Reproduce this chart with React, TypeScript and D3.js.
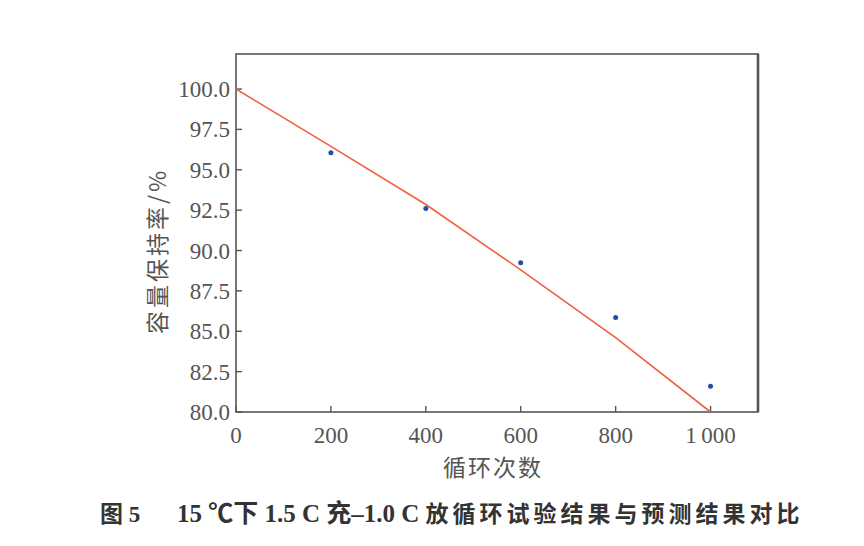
import React, { useEffect, useRef } from "react";
import * as d3 from "d3";

// cycle counts and measured capacity retention (%)
const cycles = [200, 400, 600, 800, 1000];
const measured = [96.05, 92.6, 89.25, 85.85, 81.6];

// predicted curve
const predCycles = [0, 200, 400, 600, 800, 1000];
const predicted = [100, 96.45, 92.85, 88.8, 84.6, 80.0];

const xTicks = [0, 200, 400, 600, 800, 1000];
const yTicks = [80, 82.5, 85, 87.5, 90, 92.5, 95, 97.5, 100];

const serif = "'Liberation Serif', 'DejaVu Serif', serif";
const mixed = "'Liberation Serif', 'Noto Sans CJK SC', serif";
const cjk = "'Noto Sans CJK SC', sans-serif";

const App: React.FC = () => {
  const svgRef = useRef<SVGSVGElement>(null);

  useEffect(() => {
    if (!svgRef.current) return;
    const svg = d3.select(svgRef.current);
    svg.selectAll("*").remove();

    const left = 236;
    const right = 758;
    const top = 54;
    const bottom = 412;

    const x = d3.scaleLinear().domain([0, 1100]).range([left, right]);
    const y = d3.scaleLinear().domain([80, 102.17]).range([bottom, top]);

    svg.append("rect").attr("width", 864).attr("height", 546).attr("fill", "#fff");

    // frame
    svg
      .append("rect")
      .attr("x", left)
      .attr("y", top)
      .attr("width", right - left)
      .attr("height", bottom - top)
      .attr("fill", "none")
      .attr("stroke", "#555")
      .attr("stroke-width", 1.6);
    svg
      .append("line")
      .attr("x1", right)
      .attr("x2", right)
      .attr("y1", top)
      .attr("y2", bottom)
      .attr("stroke", "#555")
      .attr("stroke-width", 2.6);

    // x ticks (inward)
    const xAxis = svg.append("g");
    xTicks.forEach((t) => {
      xAxis
        .append("line")
        .attr("x1", x(t))
        .attr("x2", x(t))
        .attr("y1", bottom)
        .attr("y2", bottom - 6)
        .attr("stroke", "#555")
        .attr("stroke-width", 1.4);
      xAxis
        .append("text")
        .attr("x", x(t))
        .attr("y", bottom + 31)
        .attr("text-anchor", "middle")
        .attr("font-family", serif)
        .attr("font-size", 23)
        .attr("fill", "#555")
        .text(t === 1000 ? "1\u2009000" : String(t));
    });

    // y ticks (inward)
    const yAxis = svg.append("g");
    yTicks.forEach((t) => {
      yAxis
        .append("line")
        .attr("x1", left)
        .attr("x2", left + 6)
        .attr("y1", y(t))
        .attr("y2", y(t))
        .attr("stroke", "#555")
        .attr("stroke-width", 1.4);
      yAxis
        .append("text")
        .attr("x", left - 6)
        .attr("y", y(t) + 8)
        .attr("text-anchor", "end")
        .attr("font-family", serif)
        .attr("font-size", 23)
        .attr("fill", "#555")
        .text(t.toFixed(1));
    });

    // predicted line
    const line = d3
      .line<number>()
      .x((_, i) => x(predCycles[i]))
      .y((d) => y(d));
    svg
      .append("path")
      .datum(predicted)
      .attr("fill", "none")
      .attr("stroke", "#f0603c")
      .attr("stroke-width", 1.6)
      .attr("d", line);

    // measured points
    svg
      .selectAll(".pt")
      .data(measured)
      .enter()
      .append("circle")
      .attr("class", "pt")
      .attr("cx", (_, i) => x(cycles[i]))
      .attr("cy", (d) => y(d))
      .attr("r", 2.5)
      .attr("fill", "#1f4fa8");

    // axis titles
    svg
      .append("text")
      .attr("x", 493)
      .attr("y", 476)
      .attr("text-anchor", "middle")
      .attr("font-family", cjk)
      .attr("font-size", 23)
      .attr("letter-spacing", 2)
      .attr("fill", "#555")
      .text("循环次数");

    svg
      .append("text")
      .attr("transform", `translate(166,251) rotate(-90)`)
      .attr("text-anchor", "middle")
      .attr("font-family", cjk)
      .attr("font-size", 23)
      .attr("letter-spacing", 3)
      .attr("fill", "#555")
      .text("容量保持率/%");

    // caption
    const cap = svg
      .append("text")
      .attr("y", 522)
      .attr("font-family", mixed)
      .attr("font-weight", "bold")
      .attr("font-size", 23)
      .attr("fill", "#333");
    cap.append("tspan").attr("x", 100).text("图 5");
    cap.append("tspan").attr("x", 177).attr("font-size", 25).text("15 ℃下 1.5 C 充–1.0 C ");
    cap
      .append("tspan")
      .attr("letter-spacing", 4)
      .text("放循环试验结果与预测结果对比");
  }, []);

  return (
    <svg
      ref={svgRef}
      width={864}
      height={546}
      style={{ position: "absolute", left: 0, top: 0 }}
    />
  );
};

export default App;
